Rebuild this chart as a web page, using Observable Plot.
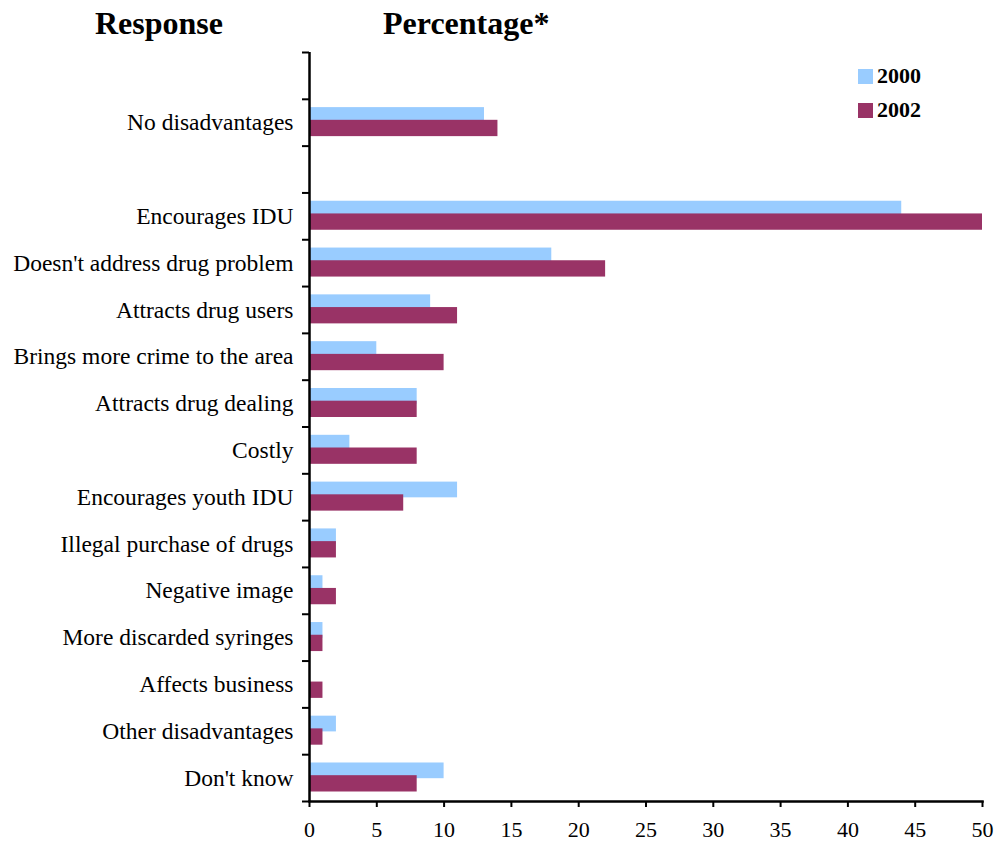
<!DOCTYPE html>
<html>
<head>
<meta charset="utf-8">
<script src="https://cdn.jsdelivr.net/npm/d3@7"></script>
<script src="https://cdn.jsdelivr.net/npm/@observablehq/plot@0.6"></script>
<style>
  body { margin: 0; background: #fff; }
  #wrap { position: relative; width: 994px; height: 843px; font-family: "Liberation Serif", "Times New Roman", serif; }
  .title { position: absolute; top: 3px; font-weight: bold; font-size: 32px; color: #000; white-space: nowrap; line-height: 40px; }
  .leg { position: absolute; left: 858px; display: flex; align-items: center; font-weight: bold; font-size: 22px; line-height: 22px; }
  .leg span.sw { width: 15px; height: 15px; margin-right: 4px; display: inline-block; }
  #chart { position: absolute; left: 0; top: 0; }
</style>
</head>
<body>
<div id="wrap">
  <div id="chart"></div>
  <div class="title" style="left:95px">Response</div>
  <div class="title" style="left:383px">Percentage*</div>
  <div class="leg" style="top:65px"><span class="sw" style="background:#99CCFF"></span>2000</div>
  <div class="leg" style="top:99px"><span class="sw" style="background:#993366"></span>2002</div>
</div>
<script>
// Categories (top to bottom); "" and " " are empty spacer slots
const slots = ["", "No disadvantages", " ", "Encourages IDU", "Doesn't address drug problem",
  "Attracts drug users", "Brings more crime to the area", "Attracts drug dealing", "Costly",
  "Encourages youth IDU", "Illegal purchase of drugs", "Negative image", "More discarded syringes",
  "Affects business", "Other disadvantages", "Don't know"];
const categories = ["No disadvantages", "Encourages IDU", "Doesn't address drug problem",
  "Attracts drug users", "Brings more crime to the area", "Attracts drug dealing", "Costly",
  "Encourages youth IDU", "Illegal purchase of drugs", "Negative image", "More discarded syringes",
  "Affects business", "Other disadvantages", "Don't know"];
const values2000 = [13, 44, 18, 9, 5, 8, 3, 11, 2, 1, 1, 0, 2, 10];
const values2002 = [14, 50, 22, 11, 10, 8, 8, 7, 2, 2, 1, 1, 1, 8];
const xTicks = [0, 5, 10, 15, 20, 25, 30, 35, 40, 45, 50];

const d2000 = categories.map((c, i) => ({response: c, value: values2000[i]})).filter(d => d.value > 0);
const d2002 = categories.map((c, i) => ({response: c, value: values2002[i]})).filter(d => d.value > 0);

const H = 843, MT = 52, MB = 42;
const band = (H - MT - MB) / slots.length;

const chart = Plot.plot({
  width: 994,
  height: H,
  marginLeft: 309,
  marginRight: 12,
  marginTop: MT,
  marginBottom: MB,
  style: {fontFamily: "Liberation Serif, Times New Roman, serif", fontSize: "23px", color: "#000", background: "transparent"},
  x: {domain: [0, 50]},
  y: {domain: slots, padding: 0, round: false},
  marks: [
    Plot.barX(d2000, {x: "value", y: "response", fill: "#99CCFF", insetTop: 8.3, insetBottom: 22.8}),
    Plot.barX(d2002, {x: "value", y: "response", fill: "#993366", insetTop: 21, insetBottom: 9.5}),
    Plot.axisY({tickSize: 0, tickPadding: 16, fontSize: 23.5, label: null}),
    Plot.axisY({tickSize: 7, tickFormat: () => "", dy: -band / 2, strokeWidth: 2, label: null}),
    Plot.axisY({ticks: [slots[slots.length - 1]], tickSize: 7, tickFormat: () => "", dy: band / 2, strokeWidth: 2, label: null}),
    Plot.axisX({ticks: xTicks, tickSize: 6, tickPadding: 14, fontSize: 22, strokeWidth: 2, label: null}),
    Plot.frame({anchor: "bottom", strokeWidth: 2.5}),
    Plot.ruleX([0], {strokeWidth: 2.5})
  ]
});
document.getElementById("chart").appendChild(chart);
</script>
</body>
</html>
